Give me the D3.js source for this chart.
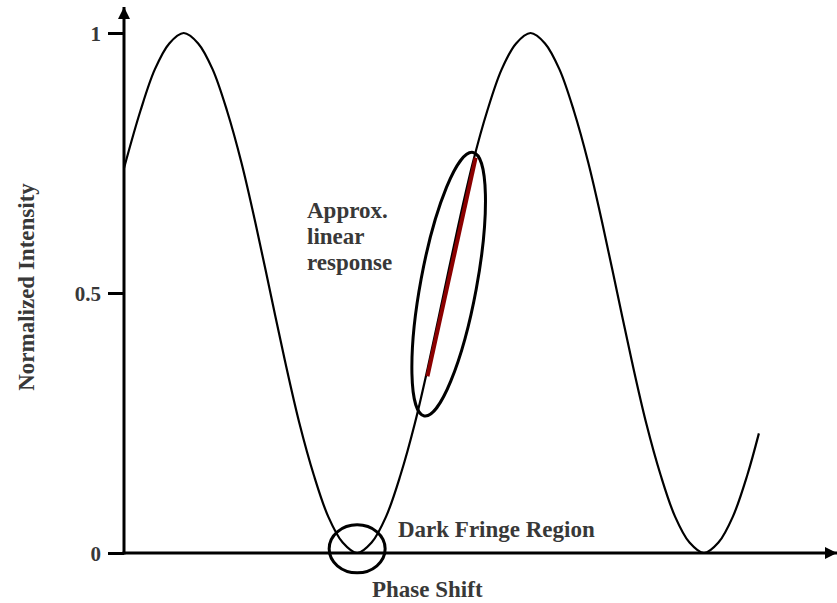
<!DOCTYPE html>
<html>
<head>
<meta charset="utf-8">
<script src="https://cdn.jsdelivr.net/npm/d3@7/dist/d3.min.js"></script>
<style>
  html, body { margin: 0; padding: 0; background: #fff; }
  svg { display: block; }
  .lbl { font-family: "Liberation Serif", "Times New Roman", serif; font-weight: bold; fill: #383838; }
</style>
</head>
<body>
<svg id="chart" width="837" height="603"></svg>
<script>
// Interference fringe: normalized intensity vs. phase (degrees)
const phase = [-62, -45, -30, -15, 0, 15, 30, 45, 60, 75, 90, 105, 120, 135, 150, 165, 180,
  195, 210, 225, 240, 255, 270, 285, 300, 315, 330, 345, 360, 375, 390, 405, 420, 435, 450,
  465, 480, 495, 510, 525, 540, 555, 570, 585, 597];
const intensity = [0.74, 0.85, 0.93, 0.98, 1.00, 0.98, 0.93, 0.85, 0.75, 0.63, 0.50, 0.37, 0.25,
  0.15, 0.07, 0.02, 0.00, 0.02, 0.07, 0.15, 0.25, 0.37, 0.50, 0.63, 0.75, 0.85, 0.93, 0.98, 1.00,
  0.98, 0.93, 0.85, 0.75, 0.63, 0.50, 0.37, 0.25, 0.15, 0.07, 0.02, 0.00, 0.02, 0.07, 0.15, 0.23];

// Approximately linear section of the response (quadrature region)
const linearPhase = [253, 303];
const linearIntensity = [0.34, 0.76];

const yTicks = [0, 0.5, 1];
const yTickLabels = ["0", "0.5", "1"];

const yLabel = "Normalized Intensity";
const linearText = ["Approx.", "linear", "response"];
const darkFringeText = "Dark Fringe Region";
const phaseText = "Phase Shift";

// Annotation ellipse centres (phase, intensity)
const linearEllipseCentre = [275, 0.517];
const darkEllipseCentre = [180, 0.008];

const svg = d3.select("#chart");
const x0 = 124, x1 = 835, yBottom = 553, yTop = 33;

const x = d3.scaleLinear().domain([-62, 676]).range([x0, x1]);
const y = d3.scaleLinear().domain([0, 1]).range([yBottom, yTop]);

// Arrow heads
const defs = svg.append("defs");
defs.append("marker").attr("id", "arrow")
  .attr("viewBox", "0 0 12 12").attr("refX", 12).attr("refY", 6)
  .attr("markerWidth", 12).attr("markerHeight", 12).attr("markerUnits", "userSpaceOnUse")
  .attr("orient", "auto")
  .append("path").attr("d", "M0,0 L12,6 L0,12 Z").attr("fill", "#000");

// Y axis with ticks
const yAxis = d3.axisLeft(y).tickValues(yTicks)
  .tickFormat((d, i) => yTickLabels[i])
  .tickSize(16).tickSizeOuter(0).tickPadding(7);
const gy = svg.append("g").attr("transform", `translate(${x0},0)`).call(yAxis);
gy.select(".domain").remove();
gy.selectAll(".tick line").attr("stroke", "#000").attr("stroke-width", 3);
gy.selectAll(".tick text").attr("class", "lbl").style("font-size", "21px").attr("dy", "0.34em");

// Axis lines
svg.append("line").attr("x1", x0).attr("y1", yBottom + 1.5).attr("x2", x0).attr("y2", 7)
  .attr("stroke", "#000").attr("stroke-width", 3).attr("marker-end", "url(#arrow)");
svg.append("line").attr("x1", x0 - 1.5).attr("y1", yBottom).attr("x2", 837).attr("y2", yBottom)
  .attr("stroke", "#000").attr("stroke-width", 3).attr("marker-end", "url(#arrow)");

// Fringe curve
const pts = phase.map((p, i) => [p, intensity[i]]);
const line = d3.line().x(d => x(d[0])).y(d => y(d[1])).curve(d3.curveCatmullRom.alpha(0.5));
svg.append("path").datum(pts).attr("d", line)
  .attr("fill", "none").attr("stroke", "#000").attr("stroke-width", 2.2);

// Linear segment
svg.append("line")
  .attr("x1", x(linearPhase[0])).attr("y1", y(linearIntensity[0]))
  .attr("x2", x(linearPhase[1])).attr("y2", y(linearIntensity[1]))
  .attr("stroke", "#8b0000").attr("stroke-width", 4);

// Annotation ellipses
svg.append("ellipse")
  .attr("transform", `translate(${x(linearEllipseCentre[0])},${y(linearEllipseCentre[1])}) rotate(10.5)`)
  .attr("rx", 28).attr("ry", 134)
  .attr("fill", "none").attr("stroke", "#000").attr("stroke-width", 3);
svg.append("ellipse")
  .attr("cx", x(darkEllipseCentre[0])).attr("cy", y(darkEllipseCentre[1]))
  .attr("rx", 28).attr("ry", 24)
  .attr("fill", "none").attr("stroke", "#000").attr("stroke-width", 3);

// Text labels
svg.append("text").attr("class", "lbl")
  .attr("transform", "translate(34,287) rotate(-90)")
  .attr("text-anchor", "middle").style("font-size", "23px").text(yLabel);

svg.append("g").selectAll("text").data(linearText).join("text")
  .attr("class", "lbl").attr("x", 307).attr("y", (d, i) => 218 + i * 26)
  .style("font-size", "23px").text(d => d);

svg.append("text").attr("class", "lbl").attr("x", 398).attr("y", 537)
  .style("font-size", "23px").text(darkFringeText);
svg.append("text").attr("class", "lbl").attr("x", 372).attr("y", 597)
  .style("font-size", "23px").text(phaseText);
</script>
</body>
</html>
